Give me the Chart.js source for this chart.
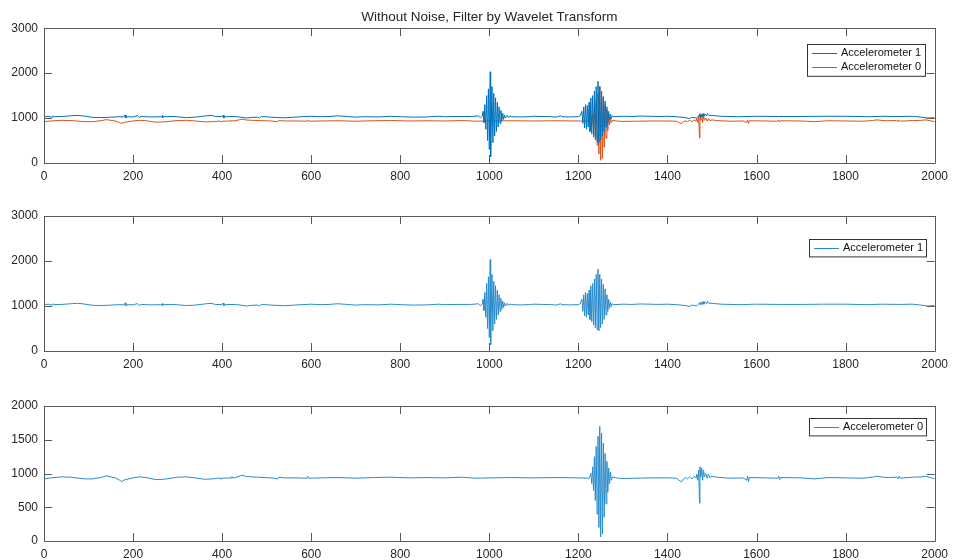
<!DOCTYPE html>
<html>
<head>
<meta charset="utf-8">
<script src="https://cdn.jsdelivr.net/npm/chart.js@4/dist/chart.umd.min.js"></script>
<style>
  html, body { margin: 0; padding: 0; background: #fff; overflow: hidden; }
  #wrap { position: relative; width: 954px; height: 560px; }
  canvas { position: absolute; left: 0; }
</style>
</head>
<body>
<div id="wrap">
  <canvas id="c1" width="954" height="185" style="top:0px"></canvas>
  <canvas id="c2" width="954" height="183" style="top:190px"></canvas>
  <canvas id="c3" width="954" height="185" style="top:375px"></canvas>
</div>
<script>
// Sample index ticks and amplitude ticks
const xTicks = [0, 200, 400, 600, 800, 1000, 1200, 1400, 1600, 1800, 2000];
const yTicksWide = [0, 1000, 2000, 3000];
const yTicksNarrow = [0, 500, 1000, 1500, 2000];

const titleText = 'Without Noise, Filter by Wavelet Transform';
const nameAcc1 = 'Accelerometer 1';
const nameAcc0 = 'Accelerometer 0';

// Accelerometer 1 readings after wavelet filtering: [sample, value]
const acc1 = [
  [0,1030],[10,1040],[18,1020],[20,1050],[22,1030],[40,1035],[60,1050],[75,1060],[90,1045],
  [110,1015],[130,1010],[150,1020],[170,1030],[180,1025],[182,1070],[184,1000],[186,1030],
  [200,1025],[210,1055],[214,1010],[218,1035],[240,1025],[265,1030],[266,1060],[267,1005],
  [268,1030],[290,1035],[320,1010],[340,1020],[360,1045],[375,1060],[385,1035],[400,1030],
  [402,1065],[404,1000],[406,1030],[430,1035],[455,1000],[465,1015],[480,1020],[484,1000],
  [488,1035],[510,1020],[540,1005],[570,1025],[600,1040],[620,1030],[640,1035],[660,1050],
  [680,1035],[700,1020],[720,1030],[750,1025],[780,1040],[800,1030],[830,1020],[860,1025],
  [885,1040],[900,1030],[930,1035],[960,1035],[975,1050],[980,1010],[984,1040],
  [986,1150],[988,900],[990,1300],[992,750],[994,1500],[996,500],[998,1650],[1000,300],
  [1002,2030],[1003,140],[1006,1700],[1008,450],[1010,1550],[1012,600],[1014,1450],[1016,700],
  [1018,1350],[1020,800],[1022,1250],[1024,880],[1026,1170],[1028,930],[1030,1110],[1032,970],
  [1034,1070],[1036,1000],[1040,1060],[1043,1010],[1046,1045],[1050,1030],
  [1070,1025],[1090,1030],[1100,1040],[1120,1035],[1140,1030],[1150,1020],[1160,1050],
  [1163,1030],[1180,1025],[1200,1030],[1204,1050],
  [1208,1150],[1210,880],[1212,1250],[1214,780],[1216,1300],[1218,750],[1220,1280],[1222,800],
  [1224,1350],[1226,700],[1228,1450],[1230,650],[1232,1500],[1234,580],[1236,1600],[1238,520],
  [1240,1700],[1242,480],[1244,1820],[1246,450],[1248,1700],[1250,520],[1252,1600],[1254,600],
  [1256,1480],[1258,700],[1260,1380],[1262,800],[1264,1250],[1266,880],[1268,1150],[1270,950],
  [1272,1090],[1274,990],[1276,1050],[1280,1030],
  [1300,1040],[1320,1035],[1340,1045],[1360,1040],[1380,1035],[1400,1040],[1420,1030],
  [1440,1010],[1450,990],[1455,1020],[1465,1000],[1470,1040],[1472,1080],[1474,1020],
  [1476,1090],[1478,1030],[1480,1100],[1482,1040],[1485,1090],[1488,1050],[1490,1100],
  [1493,1060],[1500,1060],[1520,1040],[1560,1030],[1600,1040],[1650,1035],[1700,1035],
  [1750,1040],[1800,1040],[1850,1030],[1880,1040],[1920,1035],[1950,1040],[1970,1020],
  [1985,1000],[2000,1010]
];

// Accelerometer 0 readings after wavelet filtering: [sample, value]
const acc0 = [
  [0,920],[15,935],[40,950],[60,945],[90,920],[110,920],[130,945],[140,965],[150,950],
  [160,935],[170,900],[175,880],[180,905],[200,935],[215,950],[230,940],[250,910],[270,915],
  [300,945],[320,950],[340,935],[360,915],[380,920],[395,935],[396,915],[400,930],[420,935],
  [422,955],[424,930],[445,975],[455,955],[480,945],[510,935],[525,920],[527,945],[540,935],
  [570,935],[590,930],[592,960],[594,930],[620,935],[660,940],[700,930],[740,940],[780,945],
  [820,935],[860,940],[900,935],[940,945],[970,930],[1000,935],[1050,940],[1100,935],
  [1150,940],[1200,935],[1224,930],
  [1228,1000],[1230,850],[1232,1100],[1234,750],[1236,1250],[1238,600],[1240,1400],[1242,400],
  [1244,1550],[1246,200],[1248,1700],[1250,60],[1252,1600],[1254,100],[1256,1450],[1258,350],
  [1260,1300],[1262,550],[1264,1180],[1266,720],[1268,1080],[1270,850],[1272,1020],[1274,900],
  [1277,950],[1285,935],
  [1300,925],[1330,930],[1360,935],[1400,935],[1420,930],[1428,890],[1432,880],[1436,920],
  [1440,940],[1445,920],[1450,950],[1455,920],[1460,960],[1464,930],[1466,990],[1468,900],
  [1470,1050],[1472,560],[1473,1100],[1475,950],[1477,1080],[1479,900],[1481,1050],[1483,950],
  [1486,1000],[1489,930],[1492,990],[1495,940],[1500,960],[1510,945],[1540,930],[1570,935],
  [1578,900],[1580,960],[1582,880],[1584,940],[1620,935],[1648,930],[1650,960],[1652,910],
  [1654,940],[1700,935],[1730,920],[1760,940],[1800,935],[1840,930],[1860,945],[1870,960],
  [1890,940],[1915,945],[1918,920],[1920,960],[1923,930],[1950,945],[1970,950],[1980,960],
  [1990,940],[2000,920]
];

const AXIS_COLOR = '#262626';
const BOX_COLOR = '#5a5a5a';
const FONT = 'Liberation Sans, Arial, sans-serif';

// Draws the axes box with inward-pointing ticks on all four sides
const boxTicks = {
  id: 'boxTicks',
  afterDatasetsDraw(chart) {
    const { ctx, chartArea: a, scales } = chart;
    const len = 8;
    ctx.save();
    ctx.strokeStyle = BOX_COLOR;
    ctx.lineWidth = 1;
    ctx.beginPath();
    ctx.rect(Math.round(a.left) + 0.5, Math.round(a.top) + 0.5,
             Math.round(a.right - a.left), Math.round(a.bottom - a.top));
    scales.x.ticks.forEach(t => {
      const px = Math.round(scales.x.getPixelForValue(t.value)) + 0.5;
      ctx.moveTo(px, a.bottom); ctx.lineTo(px, a.bottom - len);
      ctx.moveTo(px, a.top); ctx.lineTo(px, a.top + len);
    });
    scales.y.ticks.forEach(t => {
      const py = Math.round(scales.y.getPixelForValue(t.value)) + 0.5;
      ctx.moveTo(a.left, py); ctx.lineTo(a.left + len, py);
      ctx.moveTo(a.right, py); ctx.lineTo(a.right - len, py);
    });
    ctx.stroke();
    ctx.restore();
  }
};

// Boxed legend placed inside the upper right of the axes
const boxLegend = {
  id: 'boxLegend',
  afterDatasetsDraw(chart, args, opts) {
    const { ctx } = chart;
    const items = chart.data.datasets;
    const rowH = 14.4;
    const x0 = opts.left, y0 = opts.top, w = opts.width;
    const h = items.length * rowH + 3;
    ctx.save();
    ctx.fillStyle = '#fff';
    ctx.fillRect(x0, y0, w, h);
    ctx.strokeStyle = '#333';
    ctx.lineWidth = 1;
    ctx.strokeRect(x0 + 0.5, y0 + 0.5, w, h);
    ctx.font = '11px ' + FONT;
    ctx.textBaseline = 'middle';
    ctx.fillStyle = '#111';
    items.forEach((ds, i) => {
      const cy = y0 + 1.5 + rowH * i + rowH / 2;
      ctx.strokeStyle = ds.borderColor;
      ctx.beginPath();
      ctx.moveTo(x0 + 5, Math.round(cy) + 0.5);
      ctx.lineTo(x0 + 30, Math.round(cy) + 0.5);
      ctx.stroke();
      ctx.fillText(ds.label, x0 + 34, cy);
    });
    ctx.restore();
  }
};

function series(label, points, color) {
  return {
    label, data: points, borderColor: color, backgroundColor: color,
    borderWidth: 1, pointRadius: 0, tension: 0, fill: false
  };
}

const plain = v => String(v);

function panel(id, datasets, yMax, yTicks, opts) {
  const tickFont = { family: FONT, size: 12 };
  return new Chart(document.getElementById(id), {
    type: 'line',
    data: { datasets },
    options: {
      responsive: false,
      animation: false,
      devicePixelRatio: 1,
      layout: { padding: { top: opts.padTop, right: 16, left: 0, bottom: 0 } },
      plugins: {
        legend: { display: false },
        tooltip: { enabled: false },
        title: opts.title ? {
          display: true, text: opts.title, fullSize: false,
          color: AXIS_COLOR, font: { family: FONT, size: 13.5, weight: 'normal' },
          padding: { top: 9, bottom: 3 }
        } : { display: false },
        boxLegend: opts.legend
      },
      scales: {
        x: {
          type: 'linear', min: 0, max: 2000,
          grid: { display: false, drawTicks: false },
          border: { display: false },
          afterBuildTicks: s => { s.ticks = xTicks.map(v => ({ value: v })); },
          afterFit: s => { s.height = opts.xAxisH; },
          ticks: { color: AXIS_COLOR, font: tickFont, padding: 6, maxRotation: 0, autoSkip: false, callback: plain }
        },
        y: {
          type: 'linear', min: 0, max: yMax,
          grid: { display: false, drawTicks: false },
          border: { display: false },
          afterBuildTicks: s => { s.ticks = yTicks.map(v => ({ value: v })); },
          afterFit: s => { s.width = 44; },
          ticks: { color: AXIS_COLOR, font: tickFont, padding: 6, autoSkip: false, callback: plain }
        }
      }
    },
    plugins: [boxTicks, boxLegend]
  });
}

panel('c1', [series(nameAcc1, acc1, '#0072BD'), series(nameAcc0, acc0, '#D95319')],
  3000, yTicksWide,
  { title: titleText, padTop: 0, xAxisH: 22, legend: { left: 807, top: 44, width: 118 } });

panel('c2', [series(nameAcc1, acc1, '#2a8ccc')],
  3000, yTicksWide,
  { padTop: 26, xAxisH: 22, legend: { left: 809, top: 49, width: 117 } });

panel('c3', [series(nameAcc0, acc0, '#2a8ccc')],
  2000, yTicksNarrow,
  { padTop: 31, xAxisH: 19, legend: { left: 809, top: 43, width: 117 } });
</script>
</body>
</html>
